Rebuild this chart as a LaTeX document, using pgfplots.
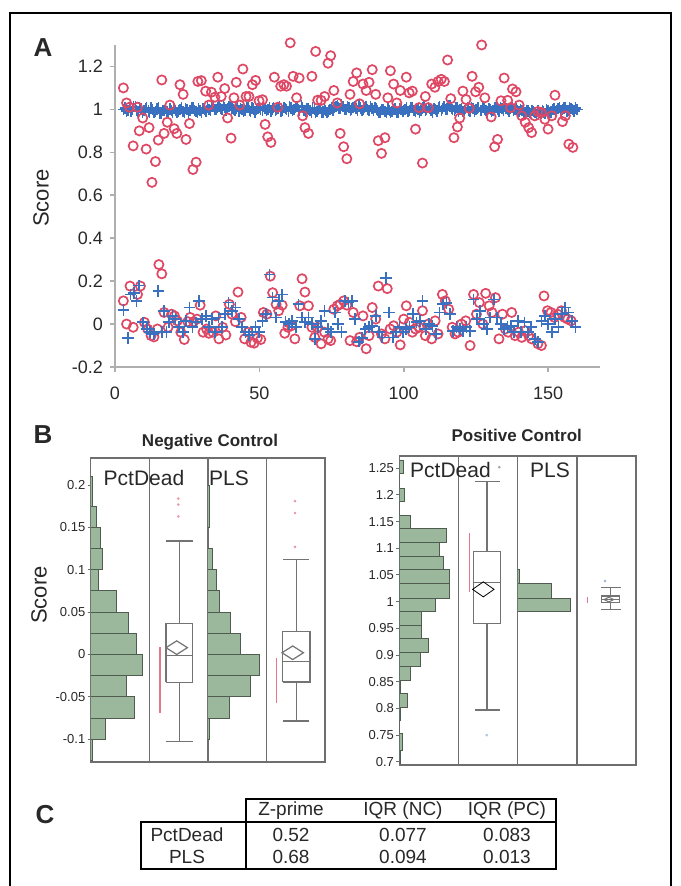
\documentclass[border=0pt]{standalone}
\usepackage{pgfplots}
\pgfplotsset{compat=1.18}
\usepackage{fontspec}
\setmainfont{Liberation Sans}
\definecolor{pdred}{RGB}{222,72,100}
\definecolor{plsblue}{RGB}{58,112,192}
\definecolor{histgreen}{RGB}{156,184,156}
\definecolor{histedge}{RGB}{80,92,80}
\definecolor{framegray}{RGB}{110,110,110}
\definecolor{boxgray}{RGB}{115,115,115}
\definecolor{axgray}{RGB}{175,175,175}
\definecolor{txt}{RGB}{40,40,40}
\pgfplotsset{
  sub/.style={scale only axis, anchor=south west, xmin=0,
    axis line style={draw=framegray, line width=0.7pt},
    xtick=\empty, ytick=\empty},
  btick/.style={ytick pos=left, tick align=outside, major tick length=1.5pt,
    tick style={draw=framegray, line width=0.5pt},
    yticklabel style={font=\fontsize{6.5}{7}\selectfont, text=txt, inner sep=1pt}},
  hist/.style={xbar interval, fill=histgreen, draw=histedge, line width=0.45pt},
  bx/.style={draw=boxgray, line width=0.6pt, solid, mark=none},
  mn/.style={only marks, mark=diamond, mark size=5pt,
    mark options={xscale=1.43, yscale=0.68, draw=boxgray, fill=white, line width=0.6pt}},
  shorth/.style={draw=pdred!75, line width=0.7pt},
  outl/.style={only marks, mark=*, mark size=0.45pt, draw=pdred!55, fill=pdred!55},
  pcplus/.style={only marks, mark=+, mark size=2.8pt, plsblue, mark options={line width=0.7pt}},
}
\begin{document}
\begin{tikzpicture}
\path[use as bounding box] (0,0) rectangle (340pt,443pt);

% ---------------- Panel A ----------------
\begin{axis}[scale only axis, anchor=south west, at={(57.5pt,259.5pt)},
  width=242.5pt, height=161pt,
  xmin=0, xmax=168, ymin=-0.2, ymax=1.3,
  axis lines=left, axis line style={-, draw=axgray, line width=1pt},
  xtick={0,50,100,150}, xticklabels={0,50,100,150},
  ytick={-0.2,0,0.2,0.4,0.6,0.8,1,1.2}, yticklabels={-0.2,0,0.2,0.4,0.6,0.8,1,1.2},
  tick align=outside, major tick length=2.5pt, tick style={draw=axgray, line width=0.8pt},
  tick label style={font=\fontsize{9}{10}\selectfont, text=txt},
  xticklabel style={yshift=-4pt},
  clip=false]
% PLS positive control
\addplot[pcplus] coordinates {
(3,1.000)(4,0.992)(5,1.008)(6,0.998)(7,1.012)(8,0.990)(9,1.004)(10,0.996)(11,1.010)(12,0.985)
(13,0.998)(14,0.990)(15,1.006)(16,0.982)(17,0.995)(18,0.988)(19,1.002)(20,0.985)(21,0.996)(22,0.992)
(23,1.008)(24,0.986)(25,0.998)(26,0.994)(27,1.010)(28,0.990)(29,1.002)(30,0.985)(31,0.998)(32,1.008)
(33,0.995)(34,1.012)(35,1.000)(36,1.015)(37,0.998)(38,1.010)(39,1.004)(40,1.018)(41,1.000)(42,1.006)
(43,0.992)(44,1.000)(45,0.996)(46,1.008)(47,0.990)(48,1.002)(49,0.998)(50,1.010)(51,0.994)(52,1.004)
(53,1.000)(54,0.992)(55,1.008)(56,0.998)(57,1.012)(58,0.996)(59,1.004)(60,0.990)(61,1.006)(62,1.000)
(63,1.014)(64,0.996)(65,1.008)(66,0.992)(67,1.002)(68,0.986)(69,0.998)(70,0.990)(71,1.004)(72,0.988)
(73,0.996)(74,0.992)(75,1.006)(76,1.010)(77,1.018)(78,1.004)(79,1.012)(80,0.998)(81,1.008)(82,1.002)
(83,1.014)(84,0.996)(85,1.006)(86,1.000)(87,1.012)(88,0.994)(89,1.004)(90,1.010)(91,0.996)(92,0.988)
(93,1.000)(94,0.984)(95,0.996)(96,0.990)(97,1.002)(98,0.986)(99,0.998)(100,0.992)(101,1.006)(102,0.996)
(103,1.008)(104,0.990)(105,1.002)(106,0.994)(107,1.012)(108,0.998)(109,1.004)(110,0.988)(111,1.000)(112,1.006)
(113,0.996)(114,1.012)(115,1.002)(116,1.016)(117,0.998)(118,1.006)(119,0.992)(120,1.002)(121,0.996)(122,1.008)
(123,0.990)(124,1.004)(125,0.998)(126,1.010)(127,0.994)(128,1.002)(129,0.988)(130,1.000)(131,0.996)(132,1.008)
(133,0.992)(134,1.004)(135,1.012)(136,0.998)(137,1.006)(138,0.994)(139,1.002)(140,0.990)(141,0.996)(142,0.984)
(143,0.992)(144,0.980)(145,0.990)(146,0.978)(147,0.986)(148,0.994)(149,0.982)(150,0.996)(151,0.988)(152,1.002)
(153,0.994)(154,1.008)(155,0.998)(156,1.010)(157,0.996)(158,1.004)(159,0.992)(160,1.000)};
\addplot[pcplus] coordinates {
(3.5,1.006)(4.5,0.996)(5.5,0.990)(6.5,1.014)(7.5,0.994)(8.5,1.010)(9.5,0.986)(10.5,1.002)(11.5,0.992)(12.5,1.006)
(13.5,0.984)(14.5,1.002)(15.5,0.980)(16.5,0.994)(17.5,1.004)(18.5,0.982)(19.5,0.994)(20.5,1.004)(21.5,0.984)(22.5,1.000)
(23.5,0.990)(24.5,1.004)(25.5,0.982)(26.5,1.006)(27.5,0.996)(28.5,0.984)(29.5,0.996)(30.5,1.004)(31.5,0.990)(32.5,1.000)
(33.5,1.016)(34.5,0.998)(35.5,1.010)(36.5,1.004)(37.5,1.020)(38.5,0.996)(39.5,1.014)(40.5,1.006)(41.5,0.996)(42.5,1.012)
(43.5,1.004)(44.5,0.990)(45.5,1.010)(46.5,0.996)(47.5,1.006)(48.5,0.988)(49.5,1.004)(50.5,0.998)(51.5,1.012)(52.5,0.994)
(53.5,1.010)(54.5,1.002)(55.5,0.994)(56.5,1.006)(57.5,0.990)(58.5,1.010)(59.5,0.998)(60.5,1.012)(61.5,0.994)(62.5,1.008)
(63.5,0.998)(64.5,1.016)(65.5,0.996)(66.5,1.004)(67.5,0.994)(68.5,1.006)(69.5,0.984)(70.5,0.998)(71.5,0.986)(72.5,1.000)
(73.5,0.984)(74.5,1.000)(75.5,0.996)(76.5,1.014)(77.5,1.006)(78.5,1.020)(79.5,1.000)(80.5,1.012)(81.5,0.996)(82.5,1.010)
(83.5,1.004)(84.5,1.016)(85.5,0.996)(86.5,1.008)(87.5,0.998)(88.5,1.012)(89.5,0.994)(90.5,1.002)(91.5,0.986)(92.5,0.998)
(93.5,0.990)(94.5,1.002)(95.5,0.984)(96.5,0.998)(97.5,0.988)(98.5,1.004)(99.5,0.990)(100.5,1.000)(101.5,0.990)(102.5,1.008)
(103.5,0.996)(104.5,1.004)(105.5,0.988)(106.5,1.006)(107.5,0.996)(108.5,1.010)(109.5,0.994)(110.5,1.004)(111.5,0.992)(112.5,1.012)
(113.5,1.004)(114.5,0.998)(115.5,1.018)(116.5,1.004)(117.5,0.994)(118.5,1.010)(119.5,0.998)(120.5,0.990)(121.5,1.004)(122.5,0.996)
(123.5,1.010)(124.5,0.992)(125.5,1.006)(126.5,0.994)(127.5,1.008)(128.5,0.996)(129.5,1.004)(130.5,0.990)(131.5,1.006)(132.5,0.998)
(133.5,1.010)(134.5,0.994)(135.5,1.004)(136.5,0.992)(137.5,1.010)(138.5,0.998)(139.5,0.994)(140.5,1.000)(141.5,0.988)(142.5,0.996)
(143.5,0.986)(144.5,0.994)(145.5,0.984)(146.5,0.992)(147.5,0.980)(148.5,0.988)(149.5,0.998)(150.5,0.986)(151.5,1.000)(152.5,0.990)
(153.5,1.004)(154.5,0.996)(155.5,1.006)(156.5,0.992)(157.5,1.008)(158.5,0.998)(159.5,1.006)};
% PctDead positive control
\addplot[only marks, mark=o, mark size=2.3pt, pdred, mark options={line width=0.85pt}] coordinates {
(2.9,1.10)(4,1.03)(5,1.01)(6.3,0.83)(7.8,1.01)(8.4,0.90)(9.6,0.96)(10.8,0.815)(11.8,0.915)(12.8,0.66)
(14,0.757)(15,0.857)(16.2,1.137)(17,0.888)(18.1,0.94)(19,1.02)(20.5,0.91)(21.4,0.888)(22.5,1.115)(23.6,1.07)
(24.6,0.86)(25.8,0.934)(27,0.72)(28.1,0.754)(28.7,1.13)(29.9,1.134)(31.4,1.085)(32.5,1.02)(33.4,1.08)(34.6,1.057)
(35.6,1.15)(36.8,1.06)(38,1.097)(39,0.96)(40.2,0.866)(41.2,1.054)(42,1.126)(43.2,1.02)(44.3,1.188)(45.4,1.06)
(46.4,1.06)(47.6,1.115)(48.7,1.135)(49.9,1.04)(51.1,1.045)(52,0.93)(52.9,0.872)(54,0.846)(55.2,1.15)(56.4,1.01)
(57.4,1.108)(58.5,1.115)(59.4,1.108)(60.7,1.31)(61.7,1.154)(62.9,1.054)(63.8,1.146)(65,0.97)(65.8,0.915)(67,0.888)
(68.2,1.154)(69.5,1.27)(70.2,1.043)(71.4,1.042)(72.6,1.06)(73.8,1.215)(74.7,1.25)(75.8,1.088)(77,1.03)(78,0.888)
(79.2,0.826)(80.3,0.77)(81.4,1.07)(82.5,1.13)(83.7,1.17)(84.7,1.026)(85.9,1.118)(87,1.088)(88,1.126)(89.1,1.185)
(90.3,1.07)(91.2,0.854)(92.3,0.795)(93.5,0.868)(94.5,1.054)(95.4,1.18)(96.5,1.118)(97.6,1.03)(98.8,1.088)(100.9,1.15)
(101.9,1.077)(103,1.085)(104.1,0.908)(105.3,1.008)(106.5,0.75)(107.5,1.06)(108.5,1.008)(109.7,1.118)(110.8,1.103)(111.9,1.13)
(113,1.14)(114.1,1.13)(115.2,1.23)(116.3,1.05)(117.4,0.868)(118.6,0.918)(119.4,0.96)(120.5,1.085)(121.6,1.046)(122.7,1.005)
(123.7,1.154)(124.9,1.082)(126,1.103)(127,1.30)(128.1,1.054)(130.3,0.965)(131.5,0.826)(132.5,0.86)(133.7,1.04)(134.8,1.146)
(136,1.042)(137,1.008)(137.7,1.095)(138.9,1.082)(140,1.02)(140.9,0.97)(142.1,0.94)(143.3,0.915)(144.3,0.892)(145.4,0.97)
(146.5,0.99)(147.7,0.985)(148.9,0.954)(150,0.908)(151.3,0.97)(152.4,1.066)(155,0.943)(156,0.97)(157.2,0.838)(158.6,0.823)};
% PctDead negative control
\addplot[only marks, mark=o, mark size=2.3pt, pdred, mark options={line width=0.85pt}] coordinates {
(2.9,0.108)(4,0.0)(5.2,0.177)(6.3,-0.015)(7.8,0.138)(8.8,0.177)(10.2,0.008)(11.3,-0.023)(12.5,-0.054)(13.5,-0.06)
(14.7,-0.023)(15.2,0.277)(16.2,0.234)(17,0.054)(18.4,-0.015)(19.6,0.046)(20.6,0.038)(21.6,0.015)(22.8,-0.038)(24,-0.072)
(25.2,0.011)(26,0.031)(27.2,0.011)(28.4,0.023)(29.5,0.088)(30.5,-0.038)(31.7,-0.023)(32.5,-0.043)(33.9,-0.038)(34.9,0.038)
(36,-0.069)(37.3,-0.015)(38.4,-0.051)(39.6,0.092)(40.5,0.046)(41.7,0.011)(42.6,0.149)(43.7,0.031)(44.9,-0.069)(46.1,-0.038)
(47.1,-0.085)(48.2,-0.089)(49.3,-0.066)(50.5,-0.072)(51.4,0.054)(52.6,0.046)(53.8,0.223)(54.6,0.146)(55.8,0.092)(56.7,0.062)
(57.9,0.088)(58.8,-0.043)(59.9,-0.015)(61.1,-0.008)(62.3,-0.069)(64,0.085)(64.8,0.211)(65.8,0.149)(67,0.085)(68.2,-0.015)
(69.2,-0.062)(70.2,-0.015)(71.4,-0.092)(72.6,-0.038)(73.8,-0.069)(74.7,-0.077)(75.8,0.069)(77,0.085)(78,0.092)(79.2,0.108)
(80.3,0.088)(81.4,-0.077)(82.5,0.054)(83.7,-0.082)(84.7,-0.062)(85.9,0.038)(87,-0.115)(88,-0.054)(89.1,0.077)(90.3,0.023)
(91.2,0.177)(92.3,-0.046)(93.5,-0.069)(94.3,0.165)(95.3,-0.023)(96.5,-0.008)(97.6,-0.038)(98.8,-0.097)(100,0.023)(100.9,0.085)
(102,0.008)(103,-0.038)(104.1,-0.023)(105.3,-0.015)(106.5,0.062)(107.5,-0.054)(108.5,0)(109.7,-0.069)(110.9,0.015)(111.9,-0.046)
(113.4,0.138)(114.4,0.108)(115.6,0.069)(116.8,-0.015)(117.8,-0.046)(118.9,-0.038)(120,0)(121.5,0.015)(123,-0.1)(124.2,0.138)
(125.2,0.046)(126.2,0.1)(127.4,0)(128.4,0.143)(129.6,0.085)(130.6,0.054)(131.8,0.123)(133,-0.069)(134.2,0.046)(135.2,-0.023)
(136.2,-0.038)(137.4,0.054)(138.6,-0.054)(139.8,-0.038)(140.9,-0.062)(142.1,-0.031)(143.3,-0.054)(144.3,-0.069)(146.5,-0.092)(147.7,-0.1)
(148.6,0.131)(149.8,0.062)(151,0.054)(152.2,0.031)(153.3,0.046)(154.6,0.062)(155.7,0.031)(156.8,0.023)(158,0.015)};
% PLS negative control
\addplot[only marks, mark=+, mark size=2.9pt, plsblue, mark options={line width=0.85pt}] coordinates {
(2.9,0.066)(4.4,-0.066)(5.4,0.138)(6.6,0.146)(7.4,0.108)(8.4,0.18)(9.6,0.008)(11,-0.023)(12.2,-0.038)(13.4,-0.046)
(15,0.154)(16.2,-0.038)(17,0.062)(17.8,-0.038)(18.7,0.008)(19.9,0.038)(21,0.023)(22.2,-0.015)(23.6,-0.038)(24.6,0.015)
(25.8,0.077)(26.8,-0.015)(28,0.008)(29,0.108)(30.2,0.023)(31.4,0.038)(32.5,-0.015)(33.6,0.023)(34.6,-0.038)(35.8,0.031)
(37,-0.015)(38.1,0.046)(39.3,0.1)(40.5,0.062)(41.7,0.077)(42.9,0.023)(44,-0.015)(45.2,-0.038)(46.4,-0.051)(47.6,-0.038)
(48.7,-0.015)(49.9,-0.038)(51.1,0.015)(52.3,0.046)(53.5,0.231)(54.6,0.123)(55.8,0.031)(56.7,0.108)(57.9,0.138)(59.1,0.011)
(60.2,0)(61.4,0.015)(62.6,-0.015)(63.6,0.092)(64.7,0.031)(65.8,0.008)(67,0.031)(68.2,0)(69.2,-0.069)(70.2,-0.015)
(71.4,0.015)(72.6,0.062)(73.8,-0.023)(74.9,-0.038)(76.1,0.054)(77.3,0)(78.5,-0.038)(79.7,0.108)(80.9,0.1)(82,0.108)
(83.2,0.023)(84.4,-0.082)(85.6,-0.066)(86.7,-0.023)(87.9,-0.015)(89.1,-0.008)(90.3,0.038)(91.5,-0.038)(92.6,-0.062)(93.8,0.215)
(95,0.054)(96.2,-0.062)(97.3,-0.038)(98.5,-0.015)(99.7,-0.038)(100.9,-0.023)(102,-0.015)(103.2,0.046)(104.4,0.008)(105.6,0.015)
(106.5,0.108)(107.7,-0.023)(108.8,0)(110,-0.008)(111.2,-0.046)(112.4,0.054)(113.6,0.092)(114.8,0.097)(116,0.046)(117.1,-0.031)
(118.3,-0.015)(119.5,-0.023)(120.6,-0.031)(121.8,-0.015)(123,-0.031)(124.2,0.115)(125.3,0.023)(126.5,0.062)(127.7,0)(128.9,-0.023)
(130,0.031)(131.2,0.115)(132.4,0.031)(133.6,0)(134.8,-0.023)(136,-0.015)(137.1,-0.008)(138.3,-0.038)(139.5,0.015)(140.6,-0.038)
(141.8,0.008)(143,-0.038)(144.2,-0.015)(145.4,-0.069)(146.5,-0.085)(147.7,0.015)(148.9,0.038)(150,0)(151.3,-0.038)(152.4,0.023)
(153.6,-0.015)(154.8,0.046)(155.9,0.077)(157.1,0.054)(158.3,0.015)(159.5,-0.015)};
\end{axis}

% ---------------- Panel B: Negative control ----------------
\begin{axis}[sub, btick, at={(45.35pt,62pt)}, width=29.3pt, height=152pt, xmax=58.6,
  ymin=-0.127, ymax=0.232,
  ytick={-0.1,-0.05,0,0.05,0.1,0.15,0.2}, yticklabels={-0.1,-0.05,0,0.05,0.1,0.15,0.2}]
\addplot[hist] coordinates {(2,-0.125)(14.3,-0.1)(43.7,-0.075)(35.3,-0.05)(52,-0.025)(46,0)(37.7,0.025)(26,0.05)(8,0.075)(12,0.1)(9.3,0.125)(5.3,0.15)(1.3,0.175)(0,0.21)};
\end{axis}
\begin{axis}[sub, at={(74.65pt,62pt)}, width=29.3pt, height=152pt, xmax=58.6, ymin=-0.127, ymax=0.232]
\addplot[bx, fill=white] coordinates {(16.65,-0.033)(43.35,-0.033)(43.35,0.037)(16.65,0.037)(16.65,-0.033)};
\addplot[bx] coordinates {(16.65,-0.001)(43.35,-0.001)};
\addplot[bx] coordinates {(30,0.037)(30,0.134)};
\addplot[bx] coordinates {(30,-0.033)(30,-0.103)};
\addplot[bx] coordinates {(16.25,0.134)(43.75,0.134)};
\addplot[bx] coordinates {(16.25,-0.103)(43.75,-0.103)};
\addplot[mn] coordinates {(27.4,0.008)};
\addplot[shorth] coordinates {(10.7,0.0086)(10.7,-0.069)};
\addplot[outl] coordinates {(29,0.184)(29,0.177)(29,0.163)};
\end{axis}
\begin{axis}[sub, at={(103.95pt,62pt)}, width=29.3pt, height=152pt, xmax=58.6, ymin=-0.127, ymax=0.232]
\addplot[hist] coordinates {(1.3,-0.1)(21.7,-0.075)(42.3,-0.05)(51.7,-0.025)(33,0)(22.3,0.025)(11.7,0.05)(8.3,0.075)(5,0.1)(0,0.125)(1.3,0.15)(0,0.2)};
\end{axis}
\begin{axis}[sub, at={(133.25pt,62pt)}, width=29.3pt, height=152pt, xmax=58.6, ymin=-0.127, ymax=0.232]
\addplot[bx, fill=white] coordinates {(16.15,-0.0326)(43.45,-0.0326)(43.45,0.0267)(16.15,0.0267)(16.15,-0.0326)};
\addplot[bx] coordinates {(16.15,-0.0086)(43.45,-0.0086)};
\addplot[bx] coordinates {(29.8,0.0267)(29.8,0.112)};
\addplot[bx] coordinates {(29.8,-0.0326)(29.8,-0.0786)};
\addplot[bx] coordinates {(16.8,0.112)(42.8,0.112)};
\addplot[bx] coordinates {(16.8,-0.0786)(42.8,-0.0786)};
\addplot[mn] coordinates {(26.2,0.002)};
\addplot[shorth] coordinates {(10.2,-0.0043)(10.2,-0.0578)};
\addplot[outl] coordinates {(28.5,0.181)(28.5,0.167)(28.5,0.127)};
\end{axis}

% ---------------- Panel B: Positive control ----------------
\begin{axis}[sub, btick, at={(199.65pt,60.5pt)}, width=29.6pt, height=154.5pt, xmax=59.2,
  ymin=0.694, ymax=1.273,
  ytick={0.7,0.75,0.8,0.85,0.9,0.95,1,1.05,1.1,1.15,1.2,1.25},
  yticklabels={0.7,0.75,0.8,0.85,0.9,0.95,1,1.05,1.1,1.15,1.2,1.25}]
\addplot[hist] coordinates {(0.7,0.6969)(3.3,0.7219)(0,0.7532)(1.3,0.7782)(8.3,0.8019)(1,0.8282)(11.3,0.8532)(20.7,0.8782)(29,0.9044)(22.3,0.9313)(22.3,0.9563)(35.7,0.9813)(50,1.0062)(50,1.0344)(44,1.0606)(40,1.0856)(47.3,1.1106)(11.3,1.1375)(0,1.1624)(4.7,1.1874)(0,1.2124)(4,1.2405)(0,1.2655)};
\end{axis}
\begin{axis}[sub, at={(229.25pt,60.5pt)}, width=29.6pt, height=154.5pt, xmax=59.2, ymin=0.694, ymax=1.273]
\addplot[bx, fill=white] coordinates {(14.8,0.9594)(42.2,0.9594)(42.2,1.0937)(14.8,1.0937)(14.8,0.9594)};
\addplot[bx] coordinates {(14.8,1.0356)(42.2,1.0356)};
\addplot[bx] coordinates {(28.5,1.0937)(28.5,1.225)};
\addplot[bx] coordinates {(28.5,0.9594)(28.5,0.797)};
\addplot[bx] coordinates {(16,1.225)(41,1.225)};
\addplot[bx] coordinates {(16,0.797)(41,0.797)};
\addplot[mn, mark options={xscale=1.43, yscale=0.75}] coordinates {(24.8,1.0231)};
\addplot[shorth] coordinates {(10.8,1.0187)(10.8,1.128)};
\addplot[only marks, mark=*, mark size=0.45pt, draw=gray!70, fill=gray!70] coordinates {(40.8,1.252)};
\addplot[only marks, mark=*, mark size=0.45pt, draw=plsblue!40, fill=plsblue!40] coordinates {(28.2,0.75)};
\end{axis}
\begin{axis}[sub, at={(258.85pt,60.5pt)}, width=29.6pt, height=154.5pt, xmax=59.2, ymin=0.694, ymax=1.273]
\addplot[hist] coordinates {(52.7,0.9813)(33.3,1.0062)(1.7,1.0344)(0,1.0606)};
\end{axis}
\begin{axis}[sub, at={(288.45pt,60.5pt)}, width=29.6pt, height=154.5pt, xmax=59.2, ymin=0.694, ymax=1.273]
\addplot[bx, fill=white] coordinates {(24.8,0.998)(42.4,0.998)(42.4,1.0106)(24.8,1.0106)(24.8,0.998)};
\addplot[bx] coordinates {(24.8,1.004)(42.4,1.004)};
\addplot[bx] coordinates {(33.6,1.0106)(33.6,1.0269)};
\addplot[bx] coordinates {(33.6,0.998)(33.6,0.9856)};
\addplot[bx] coordinates {(23.6,1.0269)(43.6,1.0269)};
\addplot[bx] coordinates {(23.6,0.9856)(43.6,0.9856)};
\addplot[only marks, mark=diamond, mark size=2pt, mark options={xscale=1.6, yscale=0.6, draw=boxgray, fill=white, line width=0.5pt}] coordinates {(32,1.004)};
\addplot[shorth] coordinates {(10.4,0.998)(10.4,1.0094)};
\addplot[only marks, mark=*, mark size=0.45pt, draw=plsblue!50, fill=plsblue!50] coordinates {(28.1,1.0387)};
\end{axis}

% ---------------- Text, frame and table ----------------
\begin{scope}[shift={(0pt,443pt)}, x=0.5pt, y=-0.5pt]
\draw[line width=1pt] (9.5,886) -- (9.5,13) -- (671,13) -- (671,886);
\node[font=\fontsize{13}{13}\selectfont\bfseries, text=txt] at (43,48) {A};
\node[font=\fontsize{13}{13}\selectfont\bfseries, text=txt] at (43,435) {B};
\node[font=\fontsize{13}{13}\selectfont\bfseries, text=txt] at (45,815) {C};
\node[rotate=90, font=\fontsize{11}{11}\selectfont, text=txt] at (41,198) {Score};
\node[rotate=90, font=\fontsize{11}{11}\selectfont, text=txt] at (39,595) {Score};
\node[font=\fontsize{8.5}{9}\selectfont\bfseries, text=txt] at (210,442) {Negative Control};
\node[font=\fontsize{8.5}{9}\selectfont\bfseries, text=txt] at (516.7,435) {Positive Control};
\node[font=\fontsize{10.5}{11}\selectfont, text=txt] at (144,478) {PctDead};
\node[font=\fontsize{10.5}{11}\selectfont, text=txt] at (229,478) {PLS};
\node[font=\fontsize{10.5}{11}\selectfont, text=txt] at (450.5,470) {PctDead};
\node[font=\fontsize{10.5}{11}\selectfont, text=txt] at (550,470) {PLS};
% table
\draw[line width=1pt] (246,799) rectangle (556,822);
\draw[line width=1pt] (141,822) rectangle (556,869);
\draw[line width=1pt] (246,822) -- (246,869);
\begin{scope}[every node/.style={font=\fontsize{9.5}{10}\selectfont, text=txt}]
\node at (291,810.5) {Z-prime};
\node at (403,810.5) {IQR (NC)};
\node at (507,810.5) {IQR (PC)};
\node at (187,835) {PctDead};
\node at (291,835) {0.52};
\node at (403,835) {0.077};
\node at (507,835) {0.083};
\node at (187,857) {PLS};
\node at (291,857) {0.68};
\node at (403,857) {0.094};
\node at (507,857) {0.013};
\end{scope}
\end{scope}
\end{tikzpicture}
\end{document}
